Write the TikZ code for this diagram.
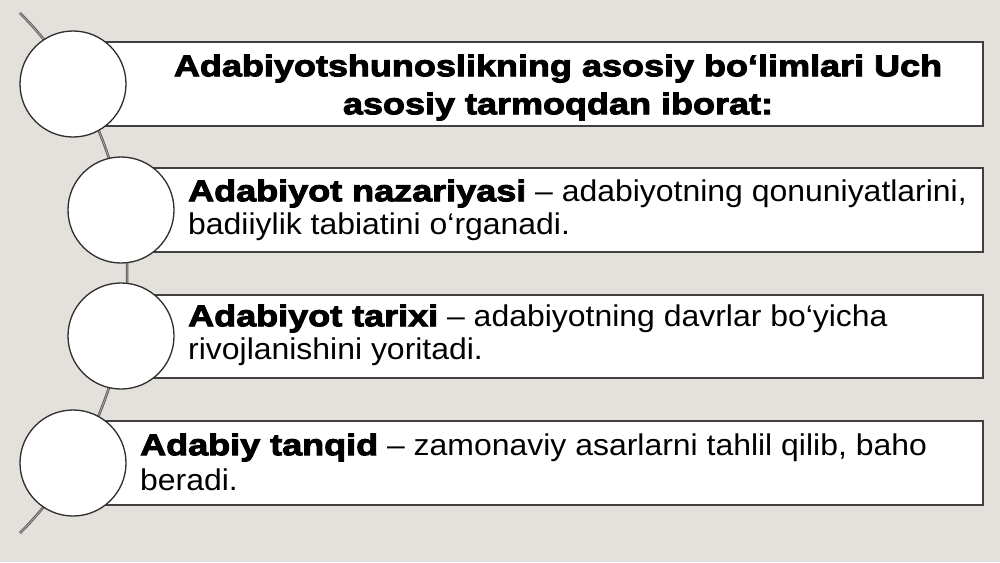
\documentclass[tikz,border=0pt]{standalone}
\usepackage{fontspec}
\setmainfont{Liberation Sans}[FakeStretch=1.065]
\newfontfamily\blk[FakeStretch=1.2,FakeBold=3.2]{Liberation Sans Bold}
\definecolor{bg}{HTML}{E4E0DB}
\definecolor{edge}{HTML}{404040}
\definecolor{ring}{HTML}{2E2E2E}
\tikzset{
  panel/.style={draw=edge, line width=1.5pt, fill=white, rectangle, inner sep=0pt, outer sep=0pt, anchor=north west},
  disc/.style={draw=ring, line width=1.3pt, fill=white, circle, minimum size=106pt, inner sep=0pt, outer sep=0pt},
  spine/.style={draw=black!70, double=black!38, double distance=1.1pt, line width=0.7pt},
  bodytext/.style={anchor=west, align=left, inner sep=0pt, font=\fontsize{30}{33}\selectfont},
  titletext/.style={anchor=center, align=center, inner sep=0pt, font=\blk\fontsize{30}{38}\selectfont}
}
\begin{document}
\begin{tikzpicture}[x=1pt,y=-1pt]
\fill[bg] (0,0) rectangle (1000,562);
\useasboundingbox (0,0) rectangle (1000,562);
% spine
\coordinate (top) at (20,13);
\coordinate (bot) at (20,533);
\draw[spine] (top) to[bend left=44.8] (bot);
% panels
\node[panel, minimum width=910pt, minimum height=84pt] (b1) at (73,42) {};
\node[panel, minimum width=862pt, minimum height=84pt] (b2) at (121,168) {};
\node[panel, minimum width=862pt, minimum height=83pt] (b3) at (121,295) {};
\node[panel, minimum width=910pt, minimum height=84pt] (b4) at (73,421) {};
% circles
\node[disc] (c1) at (73,84) {};
\node[disc] (c2) at (121,210) {};
\node[disc] (c3) at (121,336) {};
\node[disc] (c4) at (73,463) {};
% texts
\node[titletext] (t1) at (558,87.5) {Adabiyotshunoslikning asosiy bo‘limlari Uch\\asosiy tarmoqdan iborat:};
\node[bodytext] (t2) at (188,210) {{\blk Adabiyot nazariyasi} – adabiyotning qonuniyatlarini,\\badiiylik tabiatini o‘rganadi.};
\node[bodytext] (t3) at (188,335) {{\blk Adabiyot tarixi} – adabiyotning davrlar bo‘yicha\\rivojlanishini yoritadi.};
\node[bodytext, font=\fontsize{30}{35}\selectfont] (t4) at (140,462) {{\blk Adabiy tanqid} – zamonaviy asarlarni tahlil qilib, baho\\beradi.};
\end{tikzpicture}
\end{document}
